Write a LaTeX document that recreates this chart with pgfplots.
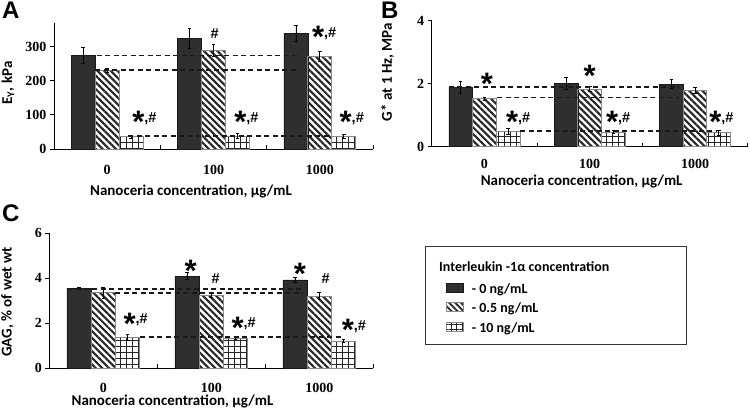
\documentclass[border=0pt]{standalone}
\usepackage{fontspec}
\setmainfont{Carlito}
\newfontfamily\tickfont{Liberation Serif}
\newfontfamily\letterfont{Liberation Sans}
\usepackage{pgfplots}
\pgfplotsset{compat=1.18}
\usetikzlibrary{patterns.meta}

\definecolor{barblack}{HTML}{2F2F2F}
\definecolor{edgegray}{HTML}{8A8A8A}
\definecolor{hatchcol}{HTML}{262626}

\newcommand{\st}{{\letterfont\bfseries\fontsize{31}{31}\selectfont\raisebox{-0.33em}{*}}}
\newcommand{\hs}{{\letterfont\bfseries\fontsize{14.5}{14.5}\selectfont\#}}
\newcommand{\cm}{{\letterfont\bfseries\fontsize{14.5}{14.5}\selectfont,}}
\newcommand{\lab}{\bfseries\fontsize{15}{15}\selectfont}

\tikzset{sig/.style={anchor=base, inner sep=0pt}}
\pgfplotsset{
  every non boxed x axis/.append style={x axis line style={-}},
  every non boxed y axis/.append style={y axis line style={-}},
  panel/.style={
    scale only axis, anchor=south west,
    xmin=-0.5, xmax=2.5, ymin=0,
    axis lines=left,
    axis line style={line width=0.8pt, -},
    xtick={0.5,1.5,2.5}, xticklabels={},
    extra x ticks={0,1,2}, extra x tick labels={0,100,1000},
    extra x tick style={major tick length=0pt},
    xtick align=inside, ytick align=outside,
    major tick length=4pt,
    tick style={line width=0.8pt, black},
    tick label style={font=\tickfont\bfseries\fontsize{14}{14}\selectfont},
    /pgf/number format/assume math mode=true,
    clip=false,
  },
  blk/.style={ybar, bar width=0.225, bar shift=0, fill=barblack, draw=black!90, line width=0.6pt},
  hat/.style={ybar, bar width=0.225, bar shift=0, draw=edgegray, line width=0.8pt,
    pattern={Lines[angle=-45, distance=4.7pt, line width=2.1pt]}, pattern color=hatchcol},
  grd/.style={ybar, bar width=0.225, bar shift=0, draw=edgegray, line width=0.8pt,
    pattern={Hatch[angle=0, distance=6pt, line width=0.8pt]}, pattern color=hatchcol},
  eb/.style={error bars/.cd, y dir=both, y explicit,
    error bar style={line width=0.8pt, black},
    error mark options={rotate=90, mark size=1.8pt, line width=0.8pt, black}},
  ref/.style={black!90, line width=1.8pt, dash pattern=on 5pt off 3.5pt, forget plot},
}

\begin{document}
\begin{tikzpicture}
\useasboundingbox (0,0) rectangle (750pt,412pt);

% ---------------- Panel A ----------------
\begin{axis}[panel, at={(54pt,263pt)}, width=319pt, height=126pt,
  ymax=369, ytick={0,100,200,300},
  extra x tick style={major tick length=0pt, xticklabel style={yshift=-12.5pt}}]
\addplot[forget plot, blk, eb] coordinates {(-0.225,274) +- (0,24) (0.775,325) +- (0,29) (1.775,339) +- (0,23)};
\addplot[forget plot, hat, eb] coordinates {(0,230) +- (0,7) (1,288) +- (0,17) (2,271) +- (0,15)};
\addplot[forget plot, grd, eb] coordinates {(0.225,36) +- (0,5) (1.225,38) +- (0,8) (2.225,38) +- (0,6)};
\addplot[ref] coordinates {(-0.34,274) (1.8,274)};
\addplot[ref] coordinates {(-0.11,231) (1.8,231)};
\addplot[ref] coordinates {(0.2,38) (2.11,38)};
\node[sig] at (axis cs:0.35,77) {\st\cm\hs};
\node[sig] at (axis cs:1.31,77) {\st\cm\hs};
\node[sig] at (axis cs:2.30,77) {\st\cm\hs};
\node[sig] at (axis cs:1.01,325) {\hs};
\node[sig] at (axis cs:2.04,326) {\st\cm\hs};
\end{axis}

% ---------------- Panel B ----------------
\begin{axis}[panel, at={(431.7pt,265.3pt)}, width=316pt, height=126pt,
  ymax=4, ytick={0,2,4},
  extra x tick style={major tick length=0pt, xticklabel style={yshift=-9pt}}]
\addplot[forget plot, blk, eb] coordinates {(-0.225,1.88) +- (0,0.18) (0.775,2.01) +- (0,0.2) (1.775,1.99) +- (0,0.15)};
\addplot[forget plot, hat, eb] coordinates {(0,1.53) +- (0,0.05) (1,1.82) +- (0,0.08) (2,1.78) +- (0,0.1)};
\addplot[forget plot, grd, eb] coordinates {(0.225,0.48) +- (0,0.1) (1.225,0.46) +- (0,0.05) (2.225,0.44) +- (0,0.07)};
\addplot[ref] coordinates {(-0.34,1.9) (1.85,1.9)};
\addplot[ref] coordinates {(0.12,1.56) (1.85,1.56)};
\addplot[ref] coordinates {(0.34,0.5) (2.2,0.5)};
\node[sig] at (axis cs:0.025,1.98) {\st};
\node[sig] at (axis cs:1.0,2.24) {\st};
\node[sig] at (axis cs:0.32,0.77) {\st\cm\hs};
\node[sig] at (axis cs:1.27,0.77) {\st\cm\hs};
\node[sig] at (axis cs:2.25,0.77) {\st\cm\hs};
\end{axis}

% ---------------- Panel C ----------------
\begin{axis}[panel, at={(49.3pt,43.7pt)}, width=324pt, height=135pt,
  ymax=6, ytick={0,2,4,6},
  extra x tick style={major tick length=0pt, xticklabel style={yshift=-11pt}}]
\addplot[forget plot, blk, eb] coordinates {(-0.225,3.56) +- (0,0.05) (0.775,4.10) +- (0,0.15) (1.775,3.93) +- (0,0.1)};
\addplot[forget plot, hat, eb] coordinates {(0,3.36) +- (0,0.24) (1,3.24) +- (0,0.1) (2,3.21) +- (0,0.17)};
\addplot[forget plot, grd, eb] coordinates {(0.225,1.38) +- (0,0.12) (1.225,1.32) +- (0,0.05) (2.225,1.21) +- (0,0.07)};
\addplot[ref] coordinates {(-0.34,3.52) (1.85,3.52)};
\addplot[ref] coordinates {(0.11,3.35) (1.85,3.35)};
\addplot[ref] coordinates {(0.34,1.38) (2.2,1.38)};
\node[sig] at (axis cs:0.81,4.33) {\st};
\node[sig] at (axis cs:1.04,3.78) {\hs};
\node[sig] at (axis cs:1.82,4.2) {\st};
\node[sig] at (axis cs:2.06,3.78) {\hs};
\node[sig] at (axis cs:0.30,1.97) {\st\cm\hs};
\node[sig] at (axis cs:1.30,1.80) {\st\cm\hs};
\node[sig] at (axis cs:2.32,1.70) {\st\cm\hs};
\end{axis}

% ---------------- labels ----------------
\node[rotate=90, font=\lab] at (8pt,329pt) {E\textsubscript{Y}, kPa};
\node[font=\lab] at (191pt,220pt) {Nanoceria concentration, µg/mL};
\node[rotate=90, font=\lab] at (387.5pt,340pt) {G* at 1 Hz, MPa};
\node[font=\lab] at (581.7pt,230pt) {Nanoceria concentration, µg/mL};
\node[rotate=90, font=\lab] at (7.5pt,110pt) {GAG, \% of wet wt};
\node[font=\lab] at (172.5pt,11pt) {Nanoceria concentration, µg/mL};

\node[anchor=north west, inner sep=0pt, font=\letterfont\bfseries\fontsize{24}{24}\selectfont] at (2pt,410pt) {A};
\node[anchor=north west, inner sep=0pt, font=\letterfont\bfseries\fontsize{24}{24}\selectfont] at (381pt,410pt) {B};
\node[anchor=north west, inner sep=0pt, font=\letterfont\bfseries\fontsize{24}{24}\selectfont] at (2pt,207pt) {C};

% ---------------- legend ----------------
\draw[line width=0.9pt, black!80] (425pt,166pt) rectangle (686.7pt,67.7pt);
\node[anchor=west, inner sep=0pt, font=\bfseries\fontsize{14}{14}\selectfont] at (439pt,145.3pt) {Interleukin -1α concentration};
\draw[fill=barblack, draw=black!90, line width=0.6pt] (446.7pt,119.2pt) rectangle (463.3pt,128.2pt);
\draw[draw=edgegray, line width=0.8pt, pattern={Lines[angle=-45, distance=4.2pt, line width=1.8pt]}, pattern color=hatchcol] (446.7pt,100.2pt) rectangle (463.3pt,109.2pt);
\draw[draw=edgegray, line width=0.8pt, pattern={Hatch[angle=0, distance=5.5pt, line width=0.8pt]}, pattern color=hatchcol] (446.7pt,80.2pt) rectangle (463.3pt,89.2pt);
\node[anchor=base west, inner sep=0pt, font=\bfseries\fontsize{14}{14}\selectfont] at (471.7pt,118.7pt) {- 0 ng/mL};
\node[anchor=base west, inner sep=0pt, font=\bfseries\fontsize{14}{14}\selectfont] at (471.7pt,99.7pt) {- 0.5 ng/mL};
\node[anchor=base west, inner sep=0pt, font=\bfseries\fontsize{14}{14}\selectfont] at (471.7pt,79.7pt) {- 10 ng/mL};
\end{tikzpicture}
\end{document}
